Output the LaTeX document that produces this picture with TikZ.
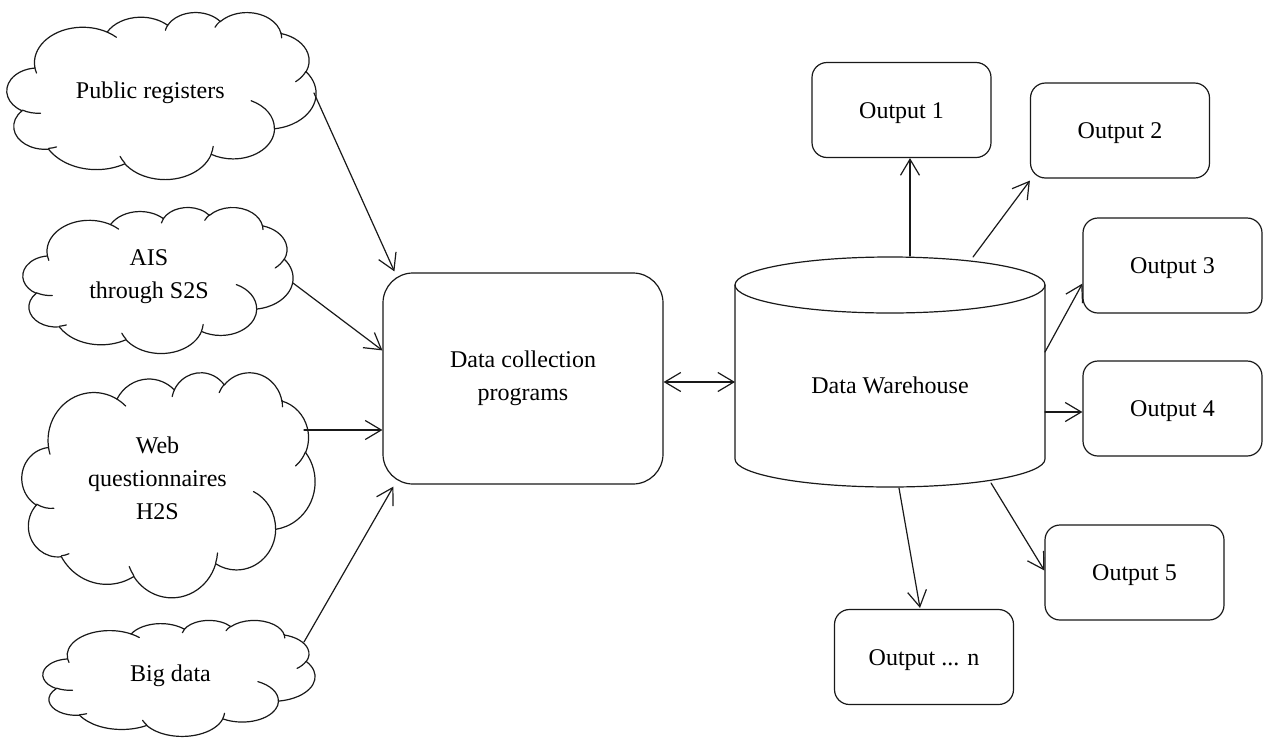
\documentclass[tikz,border=0pt]{standalone}
\usepackage{fontspec}
\setmainfont{Liberation Serif}
\usetikzlibrary{arrows.meta,calc}

\tikzset{
  ln/.style={line width=1.2pt, line cap=round, line join=round, draw=black!90},
  tip/.tip={Straight Barb[length=16pt,width=19pt]},
  conn/.style={ln, -tip},
  conntwo/.style={ln, tip-tip},
  lbl/.style={align=center, inner sep=0pt},
  outbox/.style={draw, ln, rounded corners=15pt, minimum width=179pt,
    minimum height=95pt, text height=16pt, text depth=0pt, inner sep=0pt},
  progbox/.style={draw, ln, rounded corners=30pt, minimum width=280pt,
    minimum height=211pt, align=center, inner sep=0pt},
}

% Cloud outline in a 432 x 432 frame, scaled to width #3 and height #4,
% top-left corner at (#1,#2). Arc angles are angles seen from the centre
% of each ellipse and are turned into parameter angles before drawing.
\newcommand\drawcloud[4]{%
  \pgfmathsetmacro\cldx{#3/432}%
  \pgfmathsetmacro\cldy{#4/432}%
  \begin{scope}[shift={(#1,#2)}, x=\cldx pt, y=-\cldy pt]
    \coordinate (cp) at (39,143.70);
    \foreach \Rw/\Rh/\Ast/\Asw in {
      67.53/91.90/-190.48748/123.78053,
      53.33/72.67/-144.10238/89.94523,
      43.65/59.45/-145.80792/99.72302,
      48.57/65.95/-130.98607/117.24173,
      53.33/72.73/-78.70888/109.02692,
      67.75/92.20/-46.26725/130.269,
      57.85/78.67/0.62502/114.03333,
      67.52/92.15/22.4516/115.17255,
      77.20/105.43/66.24263/75.71102,
      43.60/59.18/-274.94208/146.73557,
      43.45/59.45/-246.8285/152.51885}{
      \pgfmathsetmacro\Ta{atan2(\Rw*sin(\Ast),\Rh*cos(\Ast))}
      \pgfmathsetmacro\Tb{atan2(\Rw*sin(\Ast+\Asw),\Rh*cos(\Ast+\Asw))}
      \pgfmathsetmacro\Dt{mod(\Tb-\Ta+720,360)}
      \draw[ln] (cp) arc[start angle=\Ta, delta angle=\Dt,
        x radius=\Rw, y radius=\Rh] coordinate (cp);
    }
    % inner curls
    \foreach \Px/\Py/\Rw/\Rh/\Ast/\Asw in {
      46.93/261.77/43.45/59.45/86.742/26.4295,
      69.28/348.99/43.60/59.18/73.61047/11.44747,
      164.78/390.90/67.52/92.15/137.62415/14.0811,
      288.27/347.51/67.52/92.15/6.45327/15.99835,
      341.29/229.54/57.85/78.67/-70.29235/70.91737,
      417.98/153.54/53.33/72.73/30.31803/27.7515,
      383.24/54.26/48.57/65.95/-13.74433/14.8589,
      290.78/39.52/48.57/65.95/-149.18145/18.19537,
      221.41/47.20/43.65/59.45/-163.49427/17.68635,
      140.00/51.92/67.53/91.90/-66.70695/12.31935,
      41.27/157.89/67.53/91.90/157.65435/11.85817}{
      \pgfmathsetmacro\Ta{atan2(\Rw*sin(\Ast),\Rh*cos(\Ast))}
      \pgfmathsetmacro\Tb{atan2(\Rw*sin(\Ast+\Asw),\Rh*cos(\Ast+\Asw))}
      \pgfmathsetmacro\Dt{mod(\Tb-\Ta+720,360)}
      \draw[ln] (\Px,\Py) arc[start angle=\Ta, delta angle=\Dt,
        x radius=\Rw, y radius=\Rh];
    }
  \end{scope}}

\begin{document}
\begin{tikzpicture}[x=1pt, y=-1pt, font=\fontsize{24}{33}\selectfont]
  \fill[white] (0,0) rectangle (1266,737);
  \useasboundingbox (0,0) rectangle (1266,737);

  % sources
  \drawcloud{7}{12}{309}{167}
  \drawcloud{23}{207}{270}{146}
  \drawcloud{22}{372}{293}{225}
  \drawcloud{43}{620}{272}{116}
  \node[lbl] (pr)  at (150.3,92.8)  {Public registers};
  \node[lbl] (ais) at (149,276.2)   {AIS\\through S2S};
  \node[lbl] (web) at (157.5,478.5) {Web\\questionnaires\\H2S};
  \node[lbl] (big) at (170.5,676.2) {Big data};

  % collection programs
  \node[progbox] (dcp) at (523,378.5) {Data collection\\programs};

  % warehouse cylinder
  \draw[ln] (735,285) arc[start angle=180, delta angle=360, x radius=155, y radius=28];
  \draw[ln] (735,285) -- (735,459)
    arc[start angle=180, delta angle=-180, x radius=155, y radius=28] -- (1045,285);
  \node[lbl] (dw) at (890,385) {Data Warehouse};

  % outputs
  \node[outbox] (o1) at (901.5,110)   {Output 1};
  \node[outbox] (o2) at (1120,130.5)  {Output 2};
  \node[outbox] (o3) at (1172.5,265.5){Output 3};
  \node[outbox] (o4) at (1172.5,408.5){Output 4};
  \node[outbox] (o5) at (1134.5,572.5){Output 5};
  \node[outbox] (on) at (924,657)     {Output ... n};

  % connector ends on the clouds and on the cylinder
  \coordinate (prA)  at (314,93);
  \coordinate (aisA) at (293,283);
  \coordinate (webA) at (304,430);
  \coordinate (bigA) at (304,642);
  \coordinate (dwW)  at (735,382);
  \coordinate (dwT1) at (910,256);
  \coordinate (dwT2) at (973,257);
  \coordinate (dwR1) at (1045,352);
  \coordinate (dwR2) at (1045,412);
  \coordinate (dwB1) at (991,483);
  \coordinate (dwB2) at (899,488);

  \draw[conn] (prA)  -- ($(dcp.north west)+(12,-1)$);
  \draw[conn] (aisA) -- ($(dcp.north west)+(0,78)$);
  \draw[conn] (webA) -- (dcp.west |- webA);
  \draw[conn] (bigA) -- ($(dcp.south west)+(11,2)$);
  \draw[conntwo] (dcp.east |- dwW) -- (dwW);

  \draw[conn] (dwT1) -- (o1.south -| dwT1);
  \draw[conn] (dwT2) -- ($(o2.south west)+(0,2)$);
  \draw[conn] (dwR1) -- ($(o3.south west)+(0,-30)$);
  \draw[conn] (dwR2) -- (o4.west |- dwR2);
  \draw[conn] (dwB1) -- ($(o5.west)+(0,-2)$);
  \draw[conn] (dwB2) -- ($(on.north)+(-4,-1)$);
\end{tikzpicture}
\end{document}
